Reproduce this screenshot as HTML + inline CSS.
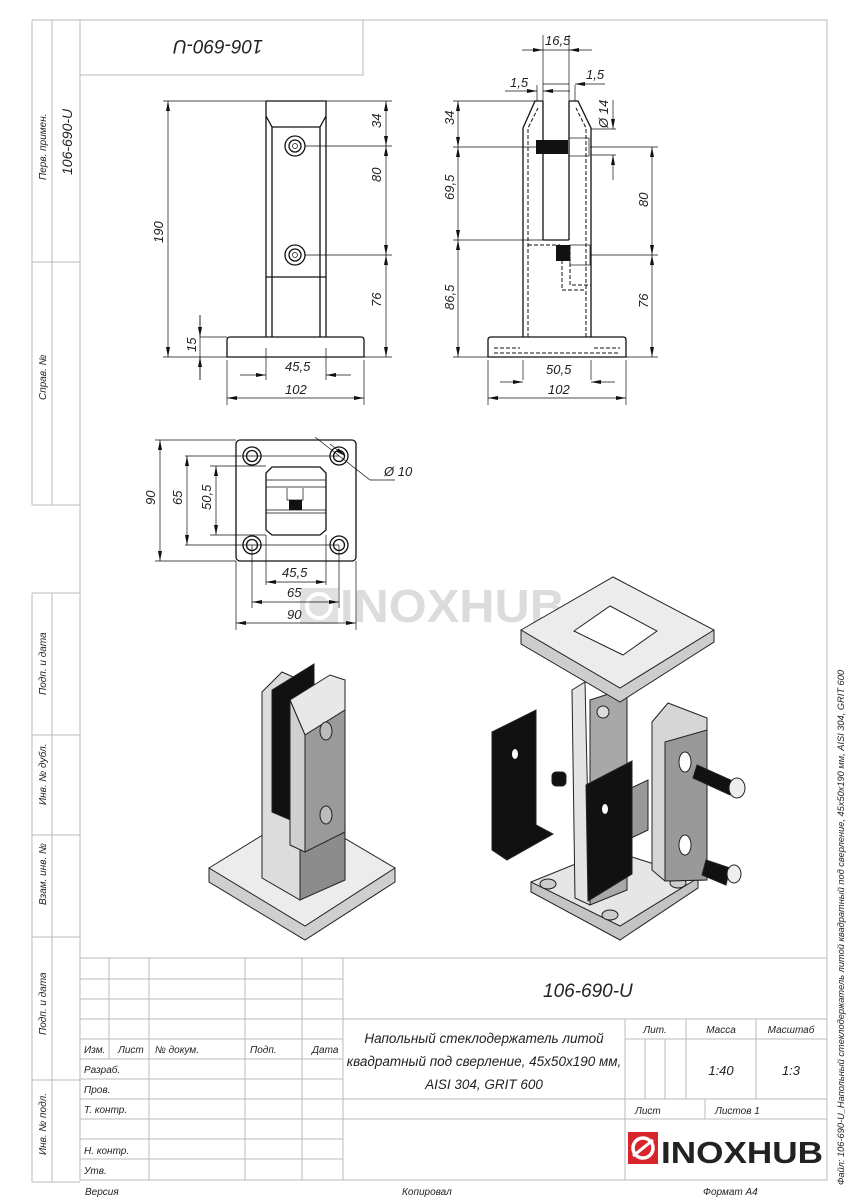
<!DOCTYPE html>
<html><head><meta charset="utf-8"><style>
body{margin:0;background:#fff}
svg{display:block}
text{font-family:"Liberation Sans",sans-serif;font-style:italic;fill:#222}
.g{stroke:#bbb;stroke-width:1;fill:none}
.k{stroke:#111;stroke-width:1.3;fill:none}
.t{stroke:#111;stroke-width:0.7;fill:none}
.d{stroke:#111;stroke-width:1;fill:none;stroke-dasharray:4 2}
</style></head><body>
<svg width="848" height="1200" viewBox="0 0 848 1200" xmlns="http://www.w3.org/2000/svg">
<defs>
<marker id="a" viewBox="0 0 10 6" refX="10" refY="3" markerWidth="10" markerHeight="6" orient="auto-start-reverse" markerUnits="userSpaceOnUse"><path d="M0,1 L10,3 L0,5z" fill="#111"/></marker>
</defs>
<!-- frame -->
<rect x="80" y="20" width="747" height="1160" class="g"/>
<rect x="80" y="20" width="283" height="55" class="g"/>
<path class="g" d="M32,20 V505 M52,20 V505 M32,20 H80 M32,262 H80 M32,505 H80"/>
<path class="g" d="M32,593 V1182 M52,593 V1182 M32,593 H80 M32,735 H80 M32,835 H80 M32,937 H80 M32,1080 H80 M32,1182 H80"/>
<text transform="translate(46,180) rotate(-90)" font-size="10">Перв. примен.</text>
<text transform="translate(72,175) rotate(-90)" font-size="14">106-690-U</text>
<text transform="translate(46,400) rotate(-90)" font-size="10">Справ. №</text>
<text transform="translate(46,695) rotate(-90)" font-size="10">Подп. и дата</text>
<text transform="translate(46,805) rotate(-90)" font-size="10">Инв. № дубл.</text>
<text transform="translate(46,905) rotate(-90)" font-size="10">Взам. инв. №</text>
<text transform="translate(46,1035) rotate(-90)" font-size="10">Подп. и дата</text>
<text transform="translate(46,1155) rotate(-90)" font-size="10">Инв. № подл.</text>
<text transform="translate(263,40) rotate(180)" font-size="19">106-690-U</text>

<!-- title block -->
<path class="g" d="M80,958 H827 M80,979 H343 M80,999 H343 M80,1019 H827 M80,1039 H343 M625,1039 H827 M80,1059 H343 M80,1079 H343 M80,1099 H827 M80,1119 H827 M80,1139 H343 M80,1159 H343
M109,958 V1059 M149,958 V1180 M245,958 V1180 M302,958 V1180 M343,958 V1180 M625,1019 V1180 M686,1019 V1099 M756,1019 V1099 M645,1039 V1099 M665,1039 V1099 M705,1099 V1119"/>
<text x="543" y="997" font-size="19">106-690-U</text>
<text x="484" y="1043" font-size="13.5" text-anchor="middle">Напольный стеклодержатель литой</text>
<text x="484" y="1066" font-size="13.5" text-anchor="middle">квадратный под сверление, 45x50x190 мм,</text>
<text x="484" y="1089" font-size="13.5" text-anchor="middle">AISI 304, GRIT 600</text>
<text x="655" y="1033" font-size="10" text-anchor="middle">Лит.</text>
<text x="721" y="1033" font-size="10" text-anchor="middle">Масса</text>
<text x="791" y="1033" font-size="10" text-anchor="middle">Масштаб</text>
<text x="721" y="1075" font-size="13" text-anchor="middle">1:40</text>
<text x="791" y="1075" font-size="13" text-anchor="middle">1:3</text>
<text x="635" y="1114" font-size="10">Лист</text>
<text x="715" y="1114" font-size="10">Листов 1</text>
<text x="84" y="1053" font-size="10">Изм.</text>
<text x="118" y="1053" font-size="10">Лист</text>
<text x="155" y="1053" font-size="10">№ докум.</text>
<text x="250" y="1053" font-size="10">Подп.</text>
<text x="312" y="1053" font-size="10">Дата</text>
<text x="84" y="1073" font-size="10">Разраб.</text>
<text x="84" y="1093" font-size="10">Пров.</text>
<text x="84" y="1113" font-size="10">Т. контр.</text>
<text x="84" y="1154" font-size="10">Н. контр.</text>
<text x="84" y="1174" font-size="10">Утв.</text>
<text x="85" y="1195" font-size="10">Версия</text>
<text x="402" y="1195" font-size="10">Копировал</text>
<text x="703" y="1195" font-size="10">Формат А4</text>
<!-- logo -->
<rect x="628" y="1132" width="30" height="32" fill="#d8252b"/>
<circle cx="643" cy="1148" r="10" fill="none" stroke="#fff" stroke-width="3.5"/>
<path d="M633,1156 L653,1140" stroke="#fff" stroke-width="3"/>
<text x="661" y="1163" font-size="31" style="font-weight:bold;font-style:normal;fill:#222" textLength="162" lengthAdjust="spacingAndGlyphs">INOXHUB</text>
<text transform="translate(844,1185) rotate(-90)" font-size="9.5" textLength="515" lengthAdjust="spacingAndGlyphs">Файл: 106-690-U_Напольный стеклодержатель литой квадратный под сверление, 45x50x190 мм, AISI 304, GRIT 600</text>

<!-- watermark -->
<g>
<rect x="300" y="588" width="38" height="36" fill="#e0e0e0"/>
<circle cx="319" cy="606" r="12" fill="none" stroke="#fff" stroke-width="4"/>
<text x="340" y="622" font-size="46" style="font-weight:bold;font-style:normal;fill:#dcdcdc" textLength="225" lengthAdjust="spacingAndGlyphs">INOXHUB</text>
</g>

<!-- FRONT VIEW -->
<g>
<path class="k" d="M266,101 H326 V337 M266,101 V337 M266,101 L270,101 M266,116 L272,127 H320 L326,116 M272,127 V337 M320,127 V337 M266,277 H326"/>
<path class="k" d="M227,357 V340 Q227,337 230,337 H361 Q364,337 364,340 V357 Z"/>
<circle cx="295" cy="146" r="10" class="k"/><circle cx="295" cy="146" r="6" class="k"/><circle cx="295" cy="146" r="2.5" class="t"/>
<circle cx="295" cy="255" r="10" class="k"/><circle cx="295" cy="255" r="6" class="k"/><circle cx="295" cy="255" r="2.5" class="t"/>
<path class="t" d="M163,101 H392 M163,357 H392 M305,146 H392 M305,255 H392 M200,337 H227 M200,315 V380 M227,360 V405 M364,360 V405 M266,348 V380 M326,348 V380"/>
<path class="t" d="M168,101 V357" marker-start="url(#a)" marker-end="url(#a)"/>
<path class="t" d="M386,101 V146" marker-start="url(#a)" marker-end="url(#a)"/>
<path class="t" d="M386,146 V255" marker-start="url(#a)" marker-end="url(#a)"/>
<path class="t" d="M386,255 V357" marker-start="url(#a)" marker-end="url(#a)"/>
<path class="t" d="M200,315 V337" marker-end="url(#a)"/><path class="t" d="M200,380 V357" marker-end="url(#a)"/>
<path class="t" d="M240,375 H266" marker-end="url(#a)"/><path class="t" d="M351,375 H326" marker-end="url(#a)"/>
<path class="t" d="M227,398 H364" marker-start="url(#a)" marker-end="url(#a)"/>
<text transform="translate(163,243) rotate(-90)" font-size="13">190</text>
<text transform="translate(381,128) rotate(-90)" font-size="13">34</text>
<text transform="translate(381,182) rotate(-90)" font-size="13">80</text>
<text transform="translate(381,307) rotate(-90)" font-size="13">76</text>
<text transform="translate(196,352) rotate(-90)" font-size="13">15</text>
<text x="285" y="371" font-size="13">45,5</text>
<text x="285" y="394" font-size="13">102</text>
</g>

<!-- SIDE VIEW -->
<g>
<path class="k" d="M523,337 V128 L535,101 H543 M591,337 V128 L578,101 H569 M543,101 V240 M569,101 V240 M543,240 H569"/>
<path class="d" d="M528,337 V128 L538,108 M586,337 V128 L576,108 M528,245 H560 M570,245 V285 H591 M562,248 V290 H586"/>
<rect x="536" y="140" width="32" height="14" fill="#111"/>
<rect x="556" y="245" width="14" height="16" fill="#111"/>
<rect x="569" y="138" width="20" height="18" class="t"/>
<rect x="570" y="245" width="20" height="20" class="t"/>
<path class="k" d="M488,357 V340 Q488,337 491,337 H623 Q626,337 626,340 V357 Z"/>
<path class="d" d="M494,353 H620 M494,348 H520 M594,348 H620"/>
<path class="t" d="M453,101 H535 M453,147 H536 M453,240 H543 M590,147 H658 M590,255 H658 M453,357 H658 M591,129 H616 M591,155 H616 M543,35 V101 M569,35 V101 M537,85 V101 M575,85 V101 M523,360 V380 M591,360 V380 M488,360 V405 M626,360 V405"/>
<path class="t" d="M458,101 V147" marker-start="url(#a)" marker-end="url(#a)"/>
<path class="t" d="M458,147 V240" marker-start="url(#a)" marker-end="url(#a)"/>
<path class="t" d="M458,240 V357" marker-start="url(#a)" marker-end="url(#a)"/>
<path class="t" d="M652,147 V255" marker-start="url(#a)" marker-end="url(#a)"/>
<path class="t" d="M652,255 V357" marker-start="url(#a)" marker-end="url(#a)"/>
<path class="t" d="M522,50 H543" marker-end="url(#a)"/><path class="t" d="M592,50 H569" marker-end="url(#a)"/><path class="t" d="M543,50 H569"/>
<path class="t" d="M505,91 H537" marker-end="url(#a)"/><path class="t" d="M570,91 H543" marker-end="url(#a)"/>
<path class="t" d="M605,84 H575" marker-end="url(#a)"/><path class="t" d="M543,84 H569"/>
<path class="t" d="M613,100 V129" marker-end="url(#a)"/><path class="t" d="M613,180 V155" marker-end="url(#a)"/>
<path class="t" d="M500,382 H523" marker-end="url(#a)"/><path class="t" d="M615,382 H591" marker-end="url(#a)"/>
<path class="t" d="M488,398 H626" marker-start="url(#a)" marker-end="url(#a)"/>
<text x="545" y="45" font-size="13">16,5</text>
<text x="510" y="87" font-size="13">1,5</text>
<text x="586" y="79" font-size="13">1,5</text>
<text transform="translate(608,128) rotate(-90)" font-size="13">Ø 14</text>
<text transform="translate(454,125) rotate(-90)" font-size="13">34</text>
<text transform="translate(454,200) rotate(-90)" font-size="13">69,5</text>
<text transform="translate(454,310) rotate(-90)" font-size="13">86,5</text>
<text transform="translate(648,207) rotate(-90)" font-size="13">80</text>
<text transform="translate(648,308) rotate(-90)" font-size="13">76</text>
<text x="546" y="374" font-size="13">50,5</text>
<text x="548" y="394" font-size="13">102</text>
</g>

<!-- TOP VIEW -->
<g>
<rect x="236" y="440" width="120" height="121" rx="4" class="k"/>
<g class="k">
<circle cx="252" cy="456" r="9"/><circle cx="252" cy="456" r="5.5"/>
<circle cx="339" cy="456" r="9"/><circle cx="339" cy="456" r="5.5"/>
<circle cx="252" cy="545" r="9"/><circle cx="252" cy="545" r="5.5"/>
<circle cx="339" cy="545" r="9"/><circle cx="339" cy="545" r="5.5"/>
<path d="M272,467 H320 L326,473 V530 L320,535 H272 L266,530 V473 Z"/>
</g>
<path class="t" d="M266,480 H326 M266,487 H326 M266,510 H326 M266,513 H326 M287,488 V500 H303 V488"/>
<rect x="289" y="500" width="13" height="10" fill="#111"/>
<path class="t" d="M155,440 H236 M185,456 H339 M210,466 H266 M210,535 H266 M185,545 H339 M155,561 H236 M236,561 V630 M356,561 V630 M252,545 V608 M339,545 V608 M266,535 V585 M326,535 V585 M315,437 L370,480 H395"/>
<path class="t" d="M160,440 V561" marker-start="url(#a)" marker-end="url(#a)"/>
<path class="t" d="M187,456 V545" marker-start="url(#a)" marker-end="url(#a)"/>
<path class="t" d="M216,466 V535" marker-start="url(#a)" marker-end="url(#a)"/>
<path class="t" d="M266,582 H326" marker-start="url(#a)" marker-end="url(#a)"/>
<path class="t" d="M252,602 H339" marker-start="url(#a)" marker-end="url(#a)"/>
<path class="t" d="M236,623 H356" marker-start="url(#a)" marker-end="url(#a)"/>
<path class="t" d="M330,444 L345,456" marker-end="url(#a)"/>
<text transform="translate(155,505) rotate(-90)" font-size="13">90</text>
<text transform="translate(182,505) rotate(-90)" font-size="13">65</text>
<text transform="translate(211,510) rotate(-90)" font-size="13">50,5</text>
<text x="282" y="577" font-size="13">45,5</text>
<text x="287" y="597" font-size="13">65</text>
<text x="287" y="619" font-size="13">90</text>
<text x="384" y="476" font-size="13">Ø 10</text>
</g>

<!-- ISO LEFT -->
<g stroke="#222" stroke-width="1">
<path d="M209,868 L300,812 L395,868 L395,880 L305,938 L209,880 Z" fill="#ececec"/>
<path d="M209,868 L209,882 L305,940 L395,882 L395,868 L305,926 Z" fill="#cfcfcf"/>
<path d="M262,692 L282,672 L300,680 L300,900 L262,878 Z" fill="#dcdcdc"/>
<path d="M300,700 L345,680 L345,880 L300,900 Z" fill="#8c8c8c"/>
<path d="M272,690 L314,664 L314,830 L272,812 Z" fill="#111"/>
<path d="M290,700 L330,675 L345,680 L345,710 L305,735 Z" fill="#e8e8e8"/>
<path d="M290,700 L305,735 L305,852 L290,845 Z" fill="#cfcfcf"/>
<path d="M305,735 L345,710 L345,832 L305,852 Z" fill="#9a9a9a"/>
<ellipse cx="326" cy="731" rx="6" ry="9" fill="#bbb"/>
<ellipse cx="326" cy="815" rx="6" ry="9" fill="#bbb"/>
</g>

<!-- ISO RIGHT -->
<g stroke="#222" stroke-width="1">
<path d="M531,882 L610,850 L698,878 L698,888 L620,938 L531,892 Z" fill="#e6e6e6"/>
<path d="M531,882 L531,892 L620,940 L698,888 L698,878 L620,926 Z" fill="#c4c4c4"/>
<ellipse cx="548" cy="884" rx="8" ry="5" fill="#ccc"/>
<ellipse cx="678" cy="883" rx="8" ry="5" fill="#ccc"/>
<ellipse cx="610" cy="915" rx="8" ry="5" fill="#ccc"/>
<path d="M572,690 L585,682 L590,905 L575,898 Z" fill="#e4e4e4"/>
<path d="M590,700 L627,688 L627,890 L590,905 Z" fill="#a8a8a8"/>
<path d="M627,790 L648,780 L648,830 L627,840 Z" fill="#999"/>
<path d="M521,630 L613,577 L714,630 L714,642 L620,700 L521,644 Z" fill="#ececec"/>
<path d="M521,630 L521,644 L620,702 L714,642 L714,630 L620,688 Z" fill="#cdcdcd"/>
<path d="M574,631 L610,606 L657,631 L623,655 Z" fill="#fff"/>
<circle cx="603" cy="712" r="6" fill="#ddd"/>
<path d="M492,732 L536,710 L536,825 L553,834 L507,860 L492,850 Z" fill="#111"/>
<ellipse cx="515" cy="754" rx="3" ry="5" fill="#fff" stroke="none"/>
<rect x="552" y="772" width="14" height="14" rx="4" fill="#111"/>
<path d="M586,785 L632,761 L632,874 L588,901 Z" fill="#111"/>
<ellipse cx="605" cy="809" rx="3" ry="5" fill="#fff" stroke="none"/>
<path d="M652,722 L668,703 L707,718 L707,880 L665,881 L652,870 Z" fill="#d6d6d6"/>
<path d="M665,742 L707,730 L707,880 L665,881 Z" fill="#999"/>
<ellipse cx="685" cy="762" rx="6" ry="10" fill="#fff"/>
<ellipse cx="685" cy="845" rx="6" ry="10" fill="#fff"/>
<path d="M697,765 L735,782 L730,795 L693,778 Z" fill="#111"/>
<ellipse cx="737" cy="788" rx="8" ry="10" fill="#eee"/>
<path d="M706,860 L730,868 L726,885 L702,875 Z" fill="#111"/>
<ellipse cx="734" cy="874" rx="7" ry="9" fill="#eee"/>
</g>
</svg>
</body></html>
